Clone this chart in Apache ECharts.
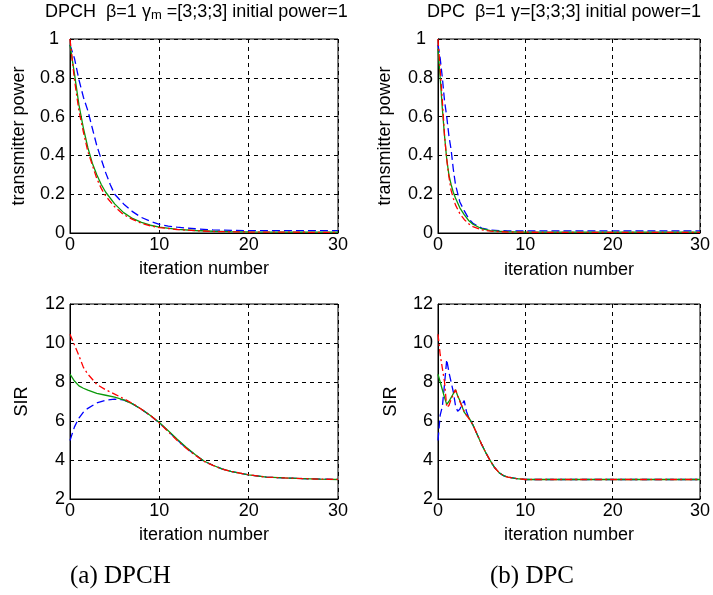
<!DOCTYPE html>
<html>
<head>
<meta charset="utf-8">
<script src="https://cdn.jsdelivr.net/npm/echarts@6/dist/echarts.min.js"></script>
<style>
	html, body { margin: 0; padding: 0; background: #fff; }
	#chart { width: 713px; height: 595px; }
</style>
</head>
<body>
<div id="chart"></div>
<script>
// ---- data ----
var xTicks = [0, 10, 20, 30];

// DPCH transmitter power
var dpchPowX = [0, 0.5, 1, 1.5, 2, 2.5, 3, 3.5, 4, 5, 6, 7, 8, 9, 10, 12, 14, 16, 18, 20, 25, 30];
var dpchPowGreen = [0.97, 0.82, 0.66, 0.54, 0.44, 0.36, 0.30, 0.25, 0.21, 0.15, 0.105, 0.075, 0.055, 0.04, 0.03, 0.019, 0.013, 0.009, 0.007, 0.006, 0.005, 0.004];
var dpchPowRed = [1.0, 0.79, 0.63, 0.52, 0.42, 0.35, 0.28, 0.23, 0.19, 0.135, 0.095, 0.07, 0.05, 0.037, 0.028, 0.018, 0.012, 0.008, 0.006, 0.005, 0.004, 0.003];
var dpchPowBlueX = [0, 0.5, 1, 1.5, 2, 2.5, 3, 3.5, 4, 4.5, 5, 6, 7, 8, 9, 10, 11, 12, 14, 16, 20, 25, 30];
var dpchPowBlue = [0.97, 0.9, 0.79, 0.7, 0.63, 0.54, 0.45, 0.38, 0.31, 0.25, 0.2, 0.15, 0.11, 0.08, 0.06, 0.045, 0.035, 0.03, 0.022, 0.016, 0.012, 0.012, 0.012];

// DPC transmitter power
var dpcPowX = [0, 0.25, 0.5, 0.75, 1, 1.25, 1.5, 1.75, 2, 2.5, 3, 3.5, 4, 5, 6, 7, 8, 10, 15, 20, 25, 30];
var dpcPowGreen = [0.95, 0.8, 0.64, 0.5, 0.38, 0.3, 0.25, 0.21, 0.18, 0.13, 0.095, 0.065, 0.045, 0.022, 0.012, 0.009, 0.007, 0.005, 0.004, 0.004, 0.004, 0.004];
var dpcPowRed = [1.0, 0.84, 0.68, 0.5, 0.38, 0.29, 0.22, 0.18, 0.145, 0.1, 0.07, 0.048, 0.033, 0.016, 0.01, 0.007, 0.005, 0.004, 0.003, 0.003, 0.003, 0.003];
var dpcPowBlue = [0.97, 0.9, 0.8, 0.68, 0.6, 0.5, 0.43, 0.33, 0.25, 0.16, 0.115, 0.075, 0.05, 0.025, 0.015, 0.012, 0.011, 0.011, 0.011, 0.011, 0.011, 0.011];

// DPCH SIR
var dpchSirX = [0, 0.5, 1, 1.5, 2, 3, 4, 5, 6, 7, 8, 9, 10, 11, 12, 13, 14, 15, 16, 17, 18, 19, 20, 22, 24, 26, 28, 30];
var dpchSirGreen = [8.4, 8.05, 7.8, 7.68, 7.58, 7.42, 7.32, 7.22, 7.08, 6.88, 6.6, 6.28, 5.92, 5.5, 5.07, 4.65, 4.28, 3.95, 3.73, 3.55, 3.42, 3.33, 3.24, 3.12, 3.08, 3.05, 3.02, 3.0];
var dpchSirRed = [10.45, 9.9, 9.35, 8.75, 8.4, 7.88, 7.6, 7.38, 7.15, 6.9, 6.6, 6.28, 5.9, 5.45, 5.0, 4.6, 4.25, 3.93, 3.72, 3.54, 3.42, 3.33, 3.24, 3.12, 3.08, 3.05, 3.02, 3.0];
var dpchSirBlue = [5.0, 5.7, 6.15, 6.45, 6.65, 6.93, 7.07, 7.12, 7.08, 6.88, 6.6, 6.28, 5.9, 5.47, 5.04, 4.62, 4.27, 3.94, 3.73, 3.55, 3.42, 3.33, 3.24, 3.12, 3.08, 3.05, 3.02, 3.0];

// DPC SIR
var dpcSirX = [0, 0.25, 0.5, 0.75, 1, 1.25, 1.5, 1.75, 2, 2.25, 2.5, 2.75, 3, 3.25, 3.5, 4, 4.5, 5, 5.5, 6, 6.5, 7, 7.5, 8, 9, 10, 15, 20, 25, 30];
var dpcSirGreen = [8.4, 8.0, 7.6, 7.2, 6.85, 7.0, 7.2, 7.4, 7.6, 7.3, 7.05, 6.75, 6.45, 6.3, 6.2, 5.8, 5.3, 4.8, 4.35, 3.95, 3.6, 3.35, 3.2, 3.12, 3.05, 3.0, 3.0, 3.0, 3.0, 3.0];
var dpcSirRed = [10.45, 9.4, 8.7, 8.0, 6.7, 6.8, 7.1, 7.35, 7.6, 7.3, 7.0, 6.75, 6.5, 6.3, 6.15, 5.8, 5.3, 4.8, 4.35, 3.95, 3.6, 3.35, 3.2, 3.12, 3.05, 3.0, 3.0, 3.0, 3.0, 3.0];
var dpcSirBlue = [5.0, 6.3, 6.75, 7.9, 9.15, 8.5, 8.0, 7.5, 6.8, 6.5, 6.6, 6.85, 7.05, 6.5, 6.2, 5.8, 5.3, 4.8, 4.35, 3.95, 3.6, 3.35, 3.2, 3.12, 3.05, 3.0, 3.0, 3.0, 3.0, 3.0];

// ---- chart ----
var FONT = 'Liberation Sans';
var myChart = echarts.init(document.getElementById('chart'));

function pairs(xs, ys) {
	var out = [];
	for (var i = 0; i < ys.length; i++) {
		out.push([xs[i], ys[i]]);
	}
	return out;
}

function curve(idx, xs, ys, color, dash) {
	return {
		type : 'line',
		xAxisIndex : idx,
		yAxisIndex : idx,
		data : pairs(xs, ys),
		showSymbol : false,
		silent : true,
		animation : false,
		lineStyle : {
			color : color,
			width : 1.3,
			type : dash
		}
	};
}

function xAx(idx, gap) {
	return {
		gridIndex : idx,
		type : 'value',
		min : 0,
		max : 30,
		interval : 10,
		name : 'iteration number',
		nameLocation : 'middle',
		nameGap : gap,
		nameTextStyle : { fontFamily : FONT, fontSize : 18, color : '#000' },
		axisLine : { lineStyle : { color : '#000', width : 1 } },
		axisTick : { inside : true, length : 3, lineStyle : { color : '#000' } },
		axisLabel : { margin : 3, fontFamily : FONT, fontSize : 18, color : '#000' },
		splitLine : { show : true, lineStyle : { color : '#000', type : [4, 4], width : 1 } }
	};
}

function yAx(idx, min, max, step, name, gap, onePad) {
	return {
		gridIndex : idx,
		type : 'value',
		min : min,
		max : max,
		interval : step,
		name : name,
		nameLocation : 'middle',
		nameGap : gap,
		nameTextStyle : { fontFamily : FONT, fontSize : 18, color : '#000' },
		axisLine : { lineStyle : { color : '#000', width : 1 } },
		axisTick : { inside : true, length : 3, lineStyle : { color : '#000' } },
		axisLabel : {
			margin : 5,
			fontFamily : FONT,
			fontSize : 18,
			color : '#000',
			formatter : function (v) {
				return v === 1 && onePad ? '{one|1}' : String(v);
			},
			rich : {
				one : { fontFamily : FONT, fontSize : 18, color : '#000', padding : [0, onePad || 0, 0, 0] }
			}
		},
		splitLine : { show : true, lineStyle : { color : '#000', type : [4, 4], width : 1 } }
	};
}

var RED = '#ff0000', GREEN = '#0a9a0a', BLUE = '#0000ff';
var DASHDOT = [7, 3, 2, 3], DASH = [8, 4];

var option = {
	backgroundColor : '#fff',
	animation : false,
	title : [ {
		left : 45,
		top : 3,
		padding : 0,
		text : '{a|DPCH  β=1 γ}{s|m}{a| =[3;3;3] initial power=1}',
		textStyle : {
			fontWeight : 'normal',
			rich : {
				a : { fontFamily : FONT, fontSize : 18, fontWeight : 'normal', color : '#000', padding : [0, 0, 6, 0] },
				s : { fontFamily : FONT, fontSize : 13, fontWeight : 'normal', color : '#000' }
			}
		}
	}, {
		left : 427,
		top : 3,
		padding : 0,
		text : 'DPC  β=1 γ=[3;3;3] initial power=1',
		textStyle : { fontFamily : FONT, fontSize : 18, fontWeight : 'normal', color : '#000' }
	} ],
	grid : [
		{ left : 70, top : 39, width : 268, height : 194, show : true, borderColor : '#000', borderWidth : 1 },
		{ left : 438, top : 39, width : 267, height : 194, show : true, borderColor : '#000', borderWidth : 1 },
		{ left : 70, top : 304, width : 268, height : 195, show : true, borderColor : '#000', borderWidth : 1 },
		{ left : 438, top : 304, width : 267, height : 195, show : true, borderColor : '#000', borderWidth : 1 }
	],
	xAxis : [ xAx(0, 27), xAx(1, 28), xAx(2, 27), xAx(3, 27) ],
	yAxis : [
		yAx(0, 0, 1, 0.2, 'transmitter power', 42, 6),
		yAx(1, 0, 1, 0.2, 'transmitter power', 44, 7),
		yAx(2, 2, 12, 2, 'SIR', 39, 0),
		yAx(3, 2, 12, 2, 'SIR', 38, 0)
	],
	series : [
		curve(0, dpchPowBlueX, dpchPowBlue, BLUE, DASH),
		curve(0, dpchPowX, dpchPowGreen, GREEN, 'solid'),
		curve(0, dpchPowX, dpchPowRed, RED, DASHDOT),
		curve(1, dpcPowX, dpcPowBlue, BLUE, DASH),
		curve(1, dpcPowX, dpcPowGreen, GREEN, 'solid'),
		curve(1, dpcPowX, dpcPowRed, RED, DASHDOT),
		curve(2, dpchSirX, dpchSirBlue, BLUE, DASH),
		curve(2, dpchSirX, dpchSirGreen, GREEN, 'solid'),
		curve(2, dpchSirX, dpchSirRed, RED, DASHDOT),
		curve(3, dpcSirX, dpcSirBlue, BLUE, DASH),
		curve(3, dpcSirX, dpcSirGreen, GREEN, 'solid'),
		curve(3, dpcSirX, dpcSirRed, RED, DASHDOT)
	],
	graphic : [ {
		type : 'text',
		left : 70,
		top : 564,
		style : { text : '(a) DPCH', font : '25px "Liberation Serif"', fill : '#000' }
	}, {
		type : 'text',
		left : 490,
		top : 564,
		style : { text : '(b) DPC', font : '25px "Liberation Serif"', fill : '#000' }
	} ]
};

myChart.setOption(option);
</script>
</body>
</html>
